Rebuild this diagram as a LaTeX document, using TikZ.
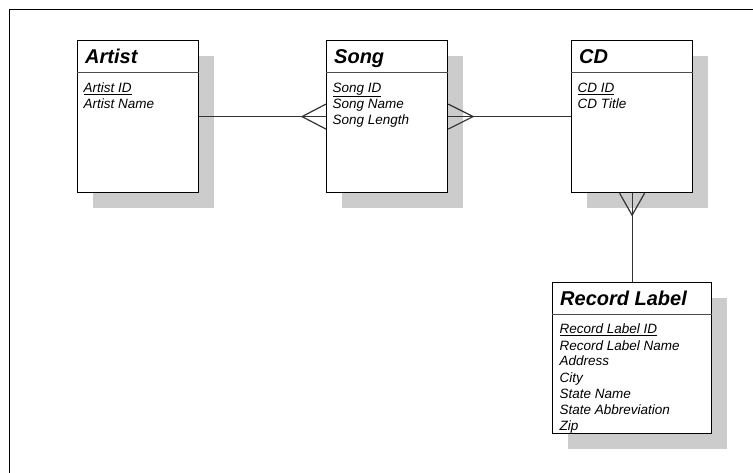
\documentclass[tikz,border=0pt]{standalone}
\usepackage{fontspec}
\setmainfont{Liberation Sans}
\usetikzlibrary{calc,shadows}
\definecolor{shadowgray}{HTML}{CCCCCC}
\tikzset{
  entitybox/.style={draw=black, line width=1.2pt, fill=white, anchor=north west,
    inner sep=0pt, minimum width=121pt, minimum height=152pt,
    drop shadow={shadow xshift=15pt, shadow yshift=-15pt, opacity=1, fill=shadowgray}},
  divider/.style={draw=black!70, line width=1pt},
  headtext/.style={anchor=base west, inner sep=0pt, font=\fontsize{20}{24}\selectfont\bfseries\itshape},
  attrtext/.style={anchor=base west, inner sep=0pt, font=\fontsize{13.5}{16}\selectfont\itshape},
  relline/.style={draw=black!80, line width=1.2pt},
}

\begin{document}
\begin{tikzpicture}[x=1pt,y=-1pt]
  \useasboundingbox (0,0) rectangle (753,473);
  \draw[line width=1pt] (9,473) -- (9,10) -- (753,10);

  % entities
  \node[entitybox] (artist) at (77,40) {};
  \node[entitybox] (song) at (326,40) {};
  \node[entitybox] (cd) at (571,40) {};
  \node[entitybox, minimum width=159pt, minimum height=151pt] (label) at (552,282) {};

  \foreach \e/\t in {artist/Artist, song/Song, cd/CD, label/Record Label} {
    \draw[divider] ($(\e.north west)+(0,33)$) -- ($(\e.north east)+(0,33)$);
    \node[headtext] (\e-head) at ($(\e.north west)+(8,23.5)$) {\t};
  }

  % attributes (first one is the key)
  \node[attrtext] (artist-a1) at ($(artist.north west)+(6.5,52.5)$) {\underline{Artist ID}};
  \node[attrtext] (artist-a2) at ($(artist.north west)+(6.5,68.5)$) {Artist Name};

  \node[attrtext] (song-a1) at ($(song.north west)+(6.5,52.5)$) {\underline{Song ID}};
  \node[attrtext] (song-a2) at ($(song.north west)+(6.5,68.5)$) {Song Name};
  \node[attrtext] (song-a3) at ($(song.north west)+(6.5,84.5)$) {Song Length};

  \node[attrtext] (cd-a1) at ($(cd.north west)+(6.5,52.5)$) {\underline{CD ID}};
  \node[attrtext] (cd-a2) at ($(cd.north west)+(6.5,68.5)$) {CD Title};

  \node[attrtext] (label-a1) at ($(label.north west)+(7.5,52)$) {\underline{Record Label ID}};
  \foreach \a [count=\i from 2] in {Record Label Name, Address, City, State Name, State Abbreviation, Zip}
    \node[attrtext] (label-a\i) at ($(label.north west)+(7.5,36+16*\i)$) {\a};

  % relationships
  \coordinate (foot1) at ($(song.west)+(-24,0)$);
  \coordinate (foot2) at ($(song.east)+(25,0)$);
  \coordinate (foot3) at ($(cd.south)+(0,22)$);
  \draw[relline] (artist.east) -- (song.west);
  \draw[relline] ($(song.west)+(0,-12.5)$) -- (foot1) -- ($(song.west)+(0,12.5)$);
  \draw[relline] (song.east) -- (cd.west);
  \draw[relline] ($(song.east)+(0,-12.5)$) -- (foot2) -- ($(song.east)+(0,12.5)$);
  \draw[relline] (cd.south) -- (label.north);
  \draw[relline] ($(cd.south)+(-12.5,0)$) -- (foot3) -- ($(cd.south)+(12.5,0)$);
\end{tikzpicture}
\end{document}
